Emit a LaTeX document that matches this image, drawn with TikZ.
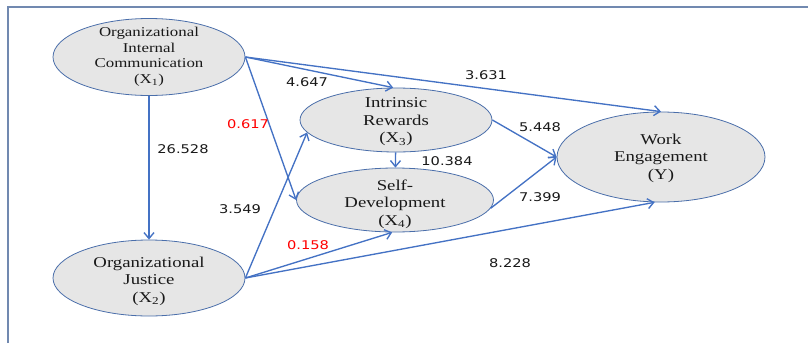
\documentclass[tikz,border=0pt]{standalone}
\usepackage{fontspec}
\newfontfamily\varfont[FakeStretch=1.25]{Liberation Serif}
\newfontfamily\coeffont[FakeStretch=1.22]{DejaVu Sans}
\usetikzlibrary{shapes.geometric,arrows.meta}
\definecolor{varfill}{HTML}{E6E6E6}
\definecolor{varedge}{HTML}{4A6EAA}
\definecolor{linkblue}{HTML}{4472C4}
\definecolor{framegray}{HTML}{7189B0}
\definecolor{weakred}{HTML}{FF0000}
\begin{document}
\begin{tikzpicture}[x=1pt,y=-1pt,
  var/.style={ellipse,draw=varedge,fill=varfill,line width=.8pt,inner sep=0pt},
  vartext/.style={align=center,text=black!90,
    font=\varfont\fontsize{15}{17.5}\selectfont},
  coef/.style={text=black!90,font=\coeffont\fontsize{12}{14}\selectfont},
  link/.style={draw=linkblue,line width=1.35pt,
    -{Straight Barb[length=6pt,width=10pt]}}]
  \useasboundingbox (0,0) rectangle (808,343);
  % frame
  \draw[framegray,line width=1.8pt] (8,343) -- (8,7) -- (808,7);
  % latent variables
  \node[var,minimum width=192pt,minimum height=77pt] (X1) at (149,57) {};
  \node[var,minimum width=192pt,minimum height=76pt] (X2) at (149,278) {};
  \node[var,minimum width=192pt,minimum height=64pt] (X3) at (396,120) {};
  \node[var,minimum width=197pt,minimum height=64pt] (X4) at (395,200) {};
  \node[var,minimum width=208pt,minimum height=90pt] (Y) at (661,157) {};
  \node[vartext,font=\varfont\fontsize{13.5}{15.5}\selectfont] (X1t) at (X1)
    {Organizational\\Internal\\Communication\\(X\textsubscript{1})};
  \node[vartext] (X2t) at (149,281) {Organizational\\Justice\\(X\textsubscript{2})};
  \node[vartext] (X3t) at (396,122) {Intrinsic\\Rewards\\(X\textsubscript{3})};
  \node[vartext] (X4t) at (395,204) {Self-\\Development\\(X\textsubscript{4})};
  \node[vartext] (Yt) at (661,158) {Work\\Engagement\\(Y)};
  % paths
  \draw[link] (X1) -- (X2);
  \draw[link] (X1.east) -- (X3.95);
  \draw[link] (X1.east) -- (Y.north);
  \draw[link] (X1.east) -- (X4.west);
  \draw[link] (X2.east) -- (X3.188);
  \draw[link] (X2.east) -- (X4.265);
  \draw[link] (X2.east) -- (Y.262);
  \draw[link] (X3) -- (X4);
  \draw[link] (X3.east) -- (Y.west);
  \draw[link] (X4.-5) -- (Y.west);
  % coefficients
  \node[coef] (c12) at (183,149) {26.528};
  \node[coef] (c13) at (307,82) {4.647};
  \node[coef] (c1y) at (486,75) {3.631};
  \node[coef,text=weakred] (c14) at (248,124) {0.617};
  \node[coef] (c23) at (240,209) {3.549};
  \node[coef,text=weakred] (c24) at (308,245) {0.158};
  \node[coef] (c2y) at (510,263) {8.228};
  \node[coef] (c34) at (447,161) {10.384};
  \node[coef] (c3y) at (540,127) {5.448};
  \node[coef] (c4y) at (540,197) {7.399};
\end{tikzpicture}
\end{document}
